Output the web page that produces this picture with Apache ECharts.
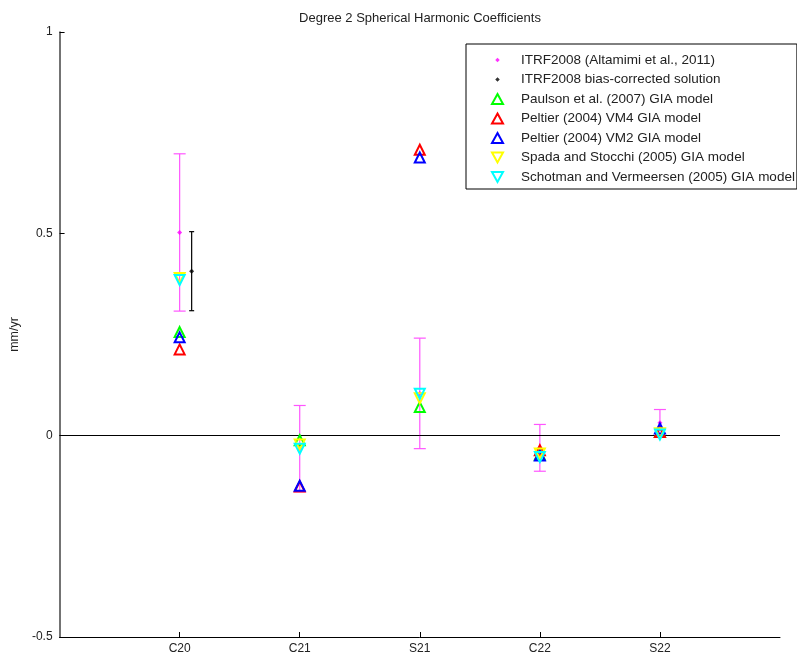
<!DOCTYPE html>
<html>
<head>
<meta charset="utf-8">
<script src="https://cdn.jsdelivr.net/npm/echarts@6/dist/echarts.min.js"></script>
<style>
  html, body { margin: 0; padding: 0; background: #fff; }
  #chart { width: 797px; height: 656px; }
</style>
</head>
<body>
<div id="chart"></div>
<script>
// coefficient names on the x axis (positions 1..5)
var categories = ["C20", "C21", "S21", "C22", "S22"];
var xPos = [1, 2, 3, 4, 5];

// ITRF2008 (Altamimi et al., 2011) with 1-sigma error
var itrf = [0.503, -0.033, 0.104, -0.031, 0.031];
var itrfErr = [0.195, 0.107, 0.137, 0.058, 0.033];

// bias-corrected solution, only for C20 (plotted slightly right of the tick)
var biasX = [1.1];
var biasVal = [0.407];
var biasErr = [0.098];

// GIA models
var paulson = [0.256, -0.012, 0.070, -0.048, 0.008];
var peltierVM4 = [0.213, -0.127, 0.708, -0.037, 0.008];
var peltierVM2 = [0.243, -0.125, 0.689, -0.050, 0.017];
var spada = [0.390, -0.023, 0.092, -0.045, 0.005];
var schotman = [0.385, -0.033, 0.103, -0.054, 0.002];

var yTicks = [-0.5, 0, 0.5, 1];

function pairs(xs, ys) {
  var out = [];
  for (var i = 0; i < ys.length; i++) out.push([xs[i], ys[i]]);
  return out;
}
function errRows(xs, ys, es) {
  var out = [];
  for (var i = 0; i < ys.length; i++) out.push([xs[i], ys[i] - es[i], ys[i] + es[i]]);
  return out;
}
function errorBar(color, cap) {
  return function (params, api) {
    var lo = api.coord([api.value(0), api.value(1)]);
    var hi = api.coord([api.value(0), api.value(2)]);
    var st = { stroke: color, lineWidth: 1.2 };
    return {
      type: "group",
      children: [
        { type: "line", shape: { x1: lo[0], y1: lo[1], x2: hi[0], y2: hi[1] }, style: st },
        { type: "line", shape: { x1: lo[0] - cap, y1: lo[1], x2: lo[0] + cap, y2: lo[1] }, style: st },
        { type: "line", shape: { x1: hi[0] - cap, y1: hi[1], x2: hi[0] + cap, y2: hi[1] }, style: st }
      ]
    };
  };
}
function triSeries(name, color, vals, down) {
  return {
    name: name,
    type: "scatter",
    symbol: "triangle",
    symbolSize: 10,
    symbolRotate: down ? 180 : 0,
    itemStyle: { color: "rgba(0,0,0,0)", opacity: 1, borderColor: color, borderWidth: 2 },
    data: pairs(xPos, vals),
    z: 5
  };
}
// small dot icon for the legend (keeps its size inside the icon box)
function dotIcon(color) {
  var svg = '<svg xmlns="http://www.w3.org/2000/svg" width="11" height="11">' +
    '<path d="M5.5 3 L8 5.5 L5.5 8 L3 5.5 Z" fill="' + color + '"/></svg>';
  return "image://data:image/svg+xml;charset=utf-8," + encodeURIComponent(svg);
}
var downTri = "path://M0,0 L10,0 L5,9 Z";

var chart = echarts.init(document.getElementById("chart"));
chart.setOption({
  animation: false,
  backgroundColor: "#fff",
  textStyle: { fontFamily: "Liberation Sans, Arial, sans-serif" },
  title: {
    text: "Degree 2 Spherical Harmonic Coefficients",
    left: 415,
    top: 7,
    textAlign: "center",
    textStyle: { fontSize: 13, fontWeight: "normal", color: "#222" }
  },
  grid: { left: 59, right: 17, top: 32, bottom: 19 },
  legend: {
    orient: "vertical",
    left: 466,
    top: 44,
    padding: [9, 2, 5, 25],
    itemGap: 5.5,
    itemWidth: 11,
    itemHeight: 10,
    backgroundColor: "#fff",
    borderColor: "#000",
    borderWidth: 1,
    textStyle: { fontSize: 13.5, color: "#222", padding: [0, 0, 0, 13] },
    data: [
      { name: "ITRF2008 (Altamimi et al., 2011)", icon: dotIcon("#ff00ff") },
      { name: "ITRF2008 bias-corrected solution", icon: dotIcon("#000000") },
      "Paulson et al. (2007) GIA model",
      "Peltier (2004) VM4 GIA model",
      "Peltier (2004) VM2 GIA model",
      { name: "Spada and Stocchi (2005) GIA model", icon: downTri },
      { name: "Schotman and Vermeersen (2005) GIA model", icon: downTri }
    ]
  },
  xAxis: {
    type: "value",
    min: 0,
    max: 6,
    interval: 1,
    axisLine: { onZero: false, lineStyle: { color: "#000", width: 1 } },
    axisTick: { inside: true, length: 5, customValues: xPos, lineStyle: { color: "#000" } },
    axisLabel: {
      customValues: xPos,
      color: "#222",
      fontSize: 12,
      margin: 6,
      formatter: function (v) { return categories[v - 1] || ""; }
    },
    splitLine: { show: false }
  },
  yAxis: {
    type: "value",
    min: -0.5,
    max: 1,
    interval: 0.5,
    name: "mm/yr",
    nameLocation: "middle",
    nameGap: 36,
    nameTextStyle: { fontSize: 12.5, color: "#222" },
    axisLine: { show: true, onZero: false, lineStyle: { color: "#444", width: 1.5 } },
    axisTick: { inside: true, length: 5, customValues: yTicks, lineStyle: { color: "#000" } },
    axisLabel: {
      customValues: yTicks,
      color: "#222",
      fontSize: 12,
      margin: 7,
      formatter: function (v) { return String(v); }
    },
    splitLine: { show: false }
  },
  series: [
    {
      name: "zero",
      type: "line",
      data: [],
      silent: true,
      markLine: {
        symbol: "none",
        silent: true,
        label: { show: false },
        lineStyle: { color: "#000", width: 1, type: "solid" },
        data: [[{ coord: [0, 0] }, { coord: [6, 0] }]]
      }
    },
    {
      name: "itrfErr",
      type: "custom",
      renderItem: errorBar("#ff55ff", 6),
      data: errRows(xPos, itrf, itrfErr),
      z: 3
    },
    {
      name: "ITRF2008 (Altamimi et al., 2011)",
      type: "scatter",
      symbol: "diamond",
      symbolSize: 5,
      itemStyle: { color: "#ff00ff" },
      data: pairs(xPos, itrf),
      z: 4
    },
    {
      name: "biasErr",
      type: "custom",
      renderItem: errorBar("#000", 2.5),
      data: errRows(biasX, biasVal, biasErr),
      z: 3
    },
    {
      name: "ITRF2008 bias-corrected solution",
      type: "scatter",
      symbol: "diamond",
      symbolSize: 5,
      itemStyle: { color: "#000" },
      data: pairs(biasX, biasVal),
      z: 4
    },
    triSeries("Paulson et al. (2007) GIA model", "#00ff00", paulson, false),
    triSeries("Peltier (2004) VM4 GIA model", "#ff0000", peltierVM4, false),
    triSeries("Peltier (2004) VM2 GIA model", "#0000ff", peltierVM2, false),
    triSeries("Spada and Stocchi (2005) GIA model", "#ffff00", spada, true),
    triSeries("Schotman and Vermeersen (2005) GIA model", "#00ffff", schotman, true)
  ]
});
</script>
</body>
</html>
